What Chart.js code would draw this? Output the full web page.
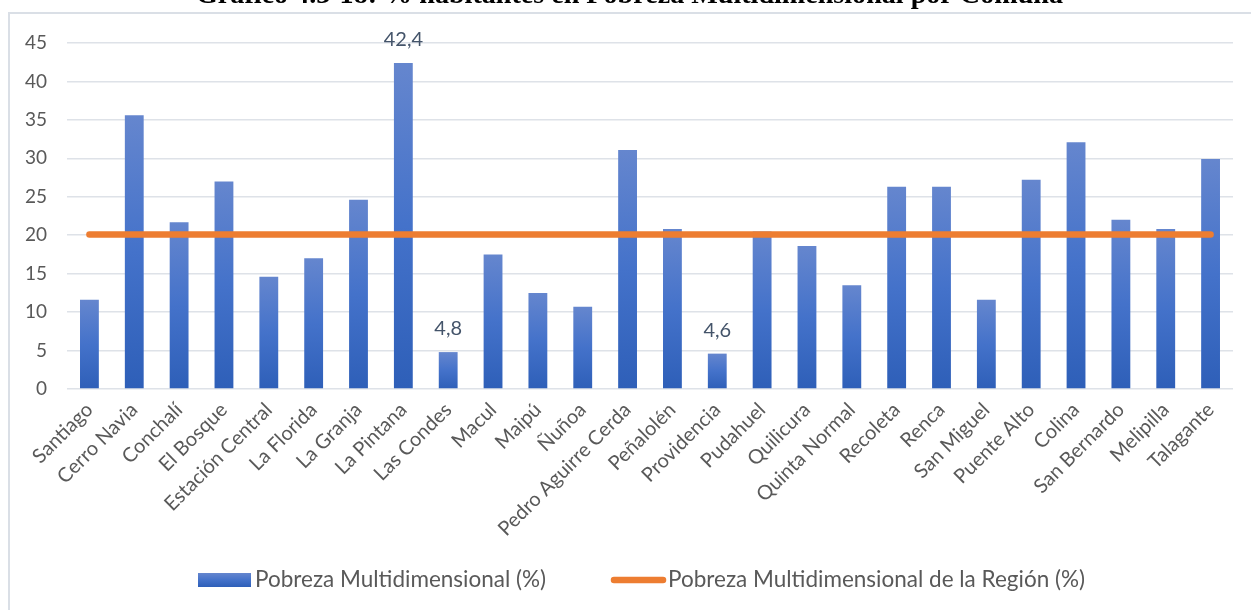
<!DOCTYPE html>
<html>
<head>
<meta charset="utf-8">
<script src="https://cdn.jsdelivr.net/npm/chart.js@4.4.1/dist/chart.umd.min.js"></script>
<style>
  html, body { margin: 0; padding: 0; background: #ffffff; }
  #wrap { position: absolute; left: 0; top: 0; width: 1251px; height: 610px; }
</style>
</head>
<body>
<div id="wrap"><canvas id="c" width="1251" height="610"></canvas></div>
<script>
const titleText = 'Gráfico 4.3-18: % habitantes en Pobreza Multidimensional por Comuna';
const comunas = ['Santiago','Cerro Navia','Conchalí','El Bosque','Estación Central','La Florida','La Granja','La Pintana','Las Condes','Macul','Maipú','Ñuñoa','Pedro Aguirre Cerda','Peñalolén','Providencia','Pudahuel','Quilicura','Quinta Normal','Recoleta','Renca','San Miguel','Puente Alto','Colina','San Bernardo','Melipilla','Talagante'];
const pobreza = [11.6,35.6,21.7,27.0,14.6,17.0,24.6,42.4,4.8,17.5,12.5,10.7,31.1,20.8,4.6,20.5,18.6,13.5,26.3,26.3,11.6,27.2,32.1,22.0,20.8,29.9];
const regionValue = 20.1;
const regionSeries = comunas.map(() => regionValue);
const labeledComunas = ['La Pintana','Las Condes','Providencia'];
const yTicks = [0,5,10,15,20,25,30,35,40,45];
const seriesNames = ['Pobreza Multidimensional (%)','Pobreza Multidimensional de la Región (%)'];

const FONT = 'Lato, "Open Sans", sans-serif';
const TXT = '#595959';

function barGradient(ctx, top, bottom) {
  const g = ctx.createLinearGradient(0, top, 0, bottom);
  g.addColorStop(0, '#6586CE');
  g.addColorStop(0.5, '#4472CA');
  g.addColorStop(1, '#2E5FB8');
  return g;
}

const decor = {
  id: 'decor',
  beforeDraw(chart) {
    const ctx = chart.ctx;
    ctx.save();
    ctx.fillStyle = '#ffffff';
    ctx.fillRect(0, 0, chart.width, chart.height);
    ctx.strokeStyle = '#DADFE6';
    ctx.lineWidth = 2;
    ctx.strokeRect(9, 13, chart.width + 20, chart.height + 20);
    // title (partially cut at top, as in the source)
    ctx.fillStyle = '#000000';
    ctx.font = 'bold 20px "Liberation Serif", serif';
    const w = ctx.measureText(titleText).width;
    const size = 20 * 867 / w;
    ctx.font = 'bold ' + size.toFixed(2) + 'px "Liberation Serif", serif';
    ctx.textAlign = 'left';
    ctx.textBaseline = 'alphabetic';
    ctx.fillText(titleText, 196, 3);
    ctx.restore();
  },
  afterDraw(chart) {
    const ctx = chart.ctx;
    ctx.save();
    // data labels
    const meta = chart.getDatasetMeta(1);
    ctx.font = '20px ' + FONT;
    ctx.fillStyle = '#44546A';
    ctx.textAlign = 'center';
    ctx.textBaseline = 'alphabetic';
    comunas.forEach((c, i) => {
      if (labeledComunas.includes(c)) {
        const el = meta.data[i];
        ctx.fillText(String(pobreza[i]).replace('.', ','), el.x, el.y - 17);
      }
    });
    // legend
    const ly = 580;
    ctx.fillStyle = barGradient(ctx, 573, 587);
    ctx.fillRect(198, 573, 53, 14);
    ctx.font = '22.5px ' + FONT;
    ctx.fillStyle = TXT;
    ctx.textAlign = 'left';
    ctx.textBaseline = 'middle';
    ctx.fillText(seriesNames[0], 255, ly);
    ctx.strokeStyle = '#ED7D31';
    ctx.lineWidth = 6.5;
    ctx.lineCap = 'round';
    ctx.beginPath();
    ctx.moveTo(614, ly);
    ctx.lineTo(663, ly);
    ctx.stroke();
    ctx.fillText(seriesNames[1], 668, ly);
    ctx.restore();
  }
};

new Chart(document.getElementById('c'), {
  data: {
    labels: comunas,
    datasets: [
      {
        type: 'line',
        label: seriesNames[1],
        data: regionSeries,
        borderColor: '#ED7D31',
        backgroundColor: '#ED7D31',
        borderWidth: 6.5,
        borderCapStyle: 'round',
        pointRadius: 0,
        pointHoverRadius: 0,
        order: 0
      },
      {
        type: 'bar',
        label: seriesNames[0],
        data: pobreza,
        categoryPercentage: 1,
        barPercentage: 0.42,
        order: 1,
        backgroundColor: (c) => {
          const chart = c.chart;
          if (!chart.chartArea || !chart.scales.y || c.raw === undefined) return '#4472C4';
          const ys = chart.scales.y;
          return barGradient(chart.ctx, ys.getPixelForValue(c.raw), ys.getPixelForValue(0));
        }
      }
    ]
  },
  options: {
    responsive: false,
    animation: false,
    events: [],
    layout: { padding: { left: 0, right: 18, top: 43, bottom: 0 } },
    plugins: { legend: { display: false }, tooltip: { enabled: false }, title: { display: false } },
    scales: {
      x: {
        offset: true,
        grid: { display: false, drawTicks: false },
        border: { display: false },
        ticks: {
          autoSkip: false,
          maxRotation: 45,
          minRotation: 45,
          padding: 9,
          color: TXT,
          font: { family: FONT, size: 20 }
        },
        afterFit(scale) { scale.height = 610 - 389; }
      },
      y: {
        min: 0,
        max: 45,
        afterBuildTicks(scale) { scale.ticks = yTicks.map(v => ({ value: v })); },
        grid: { color: '#DEE2E8', lineWidth: 1.5, drawTicks: false },
        border: { display: false },
        ticks: {
          padding: 20,
          color: TXT,
          font: { family: FONT, size: 19 }
        },
        afterFit(scale) { scale.width = 67; }
      }
    }
  },
  plugins: [decor]
});
</script>
</body>
</html>
